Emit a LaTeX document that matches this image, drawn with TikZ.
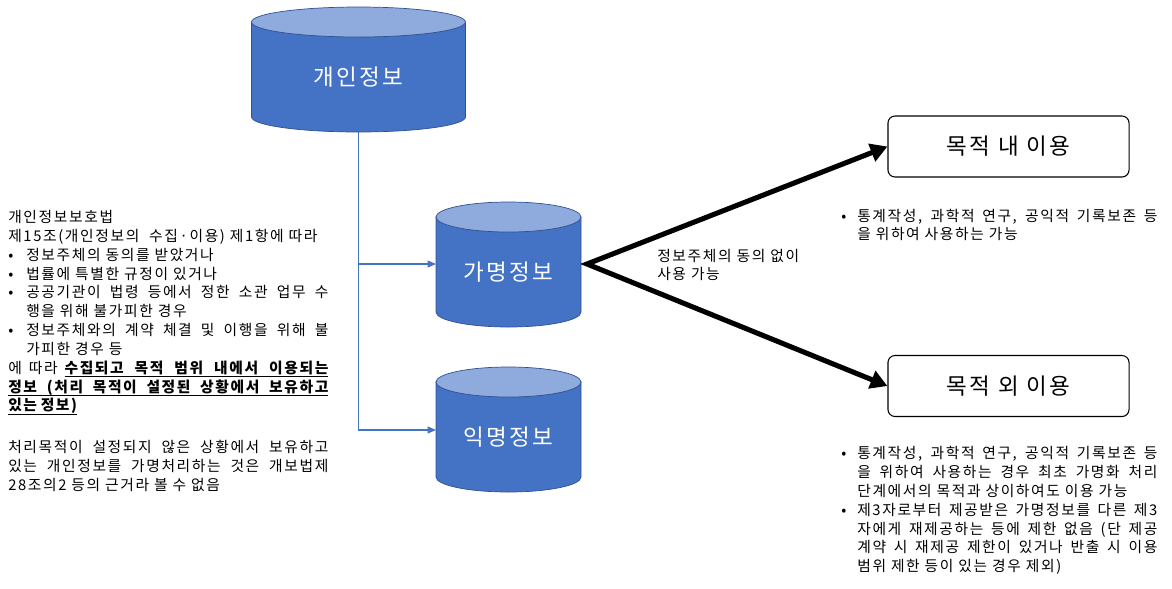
\documentclass[tikz,border=0pt]{standalone}
\usepackage{fontspec}
\usepackage{xcolor}
\usetikzlibrary{arrows.meta}
\setmainfont{Noto Sans CJK KR}[LetterSpace=11]
\definecolor{dbblue}{HTML}{4472C4}
\definecolor{dbtop}{HTML}{8FAADC}
\definecolor{dbedge}{HTML}{2F528F}
\newcommand{\bitem}[2]{\par\noindent\hangindent=#1\hangafter=1\makebox[#1][l]{•}#2\par}
\newcommand{\ulw}[1]{\setbox0\hbox{#1}\rlap{\rule[-2.6pt]{\wd0}{0.6pt}}\box0}
\newcommand{\uls}{\leaders\hrule height -2pt depth 2.6pt\hskip 0.25em plus 0.6em minus 0.05em\relax}
\newcommand{\dbcyl}[4]{%
  \filldraw[dbside] (#1-#4,#2) -- (#1-#4,#3) arc[start angle=180,end angle=0,x radius=#4,y radius=15] -- (#1+#4,#2) -- cycle;
  \filldraw[dbcap] (#1,#2) ellipse[x radius=#4,y radius=15];}
\tikzset{
  dbside/.style={fill=dbblue,draw=dbedge,line width=0.5pt},
  dbcap/.style={fill=dbtop,draw=dbedge,line width=0.5pt},
  dbtext/.style={text=white,font=\fontsize{16}{19}\selectfont,inner sep=0pt,outer sep=0pt},
  usebox/.style={draw,rounded corners=5pt,line width=0.75pt,minimum width=6.025cm,minimum height=1.525cm,font=\fontsize{16}{19}\selectfont},
  note/.style={inner sep=0pt,anchor=north west,font=\fontsize{10.5}{13.4}\selectfont},
  feed/.style={draw=dbblue,line width=0.75pt,-{Triangle[length=6pt,width=5pt]}},
  flow/.style={line width=3.6pt,{Triangle[length=12pt,width=13pt]}-{Triangle[length=12pt,width=13pt]}}
}

\begin{document}
\begin{tikzpicture}[x=0.025cm,y=-0.025cm]
  \useasboundingbox (0,0) rectangle (1172,588);
  % databases
  \dbcyl{358.5}{22}{117}{107}
  \dbcyl{508.5}{217}{312}{72.5}
  \dbcyl{508.5}{382}{477}{72.5}
  \node[dbtext] at(358.5,77)(pers){개인정보};
  \node[dbtext,minimum width=3.625cm] at(508.5,272)(pseudo){가명정보};
  \node[dbtext,minimum width=3.625cm] at(508.5,437)(anon){익명정보};
  % uses
  \node[usebox] at(1008.5,146.5)(inbox){목적 내 이용};
  \node[usebox] at(1008.5,386)(outbox){목적 외 이용};
  % texts
  \node[note,text width=8cm,align=justify] at(8,210)(law){%
    개인정보보호법\par
    제15조(개인정보의 \ 수집·이용) 제1항에 따라\par
    \bitem{0.45cm}{정보주체의 동의를 받았거나}
    \bitem{0.45cm}{법률에 특별한 규정이 있거나}
    \bitem{0.45cm}{공공기관이 법령 등에서 정한 소관 업무 수\linebreak 행을 위해 불가피한 경우}
    \bitem{0.45cm}{정보주체와의 계약 체결 및 이행을 위해 불\linebreak 가피한 경우 등}
    \noindent 에 따라 {\bfseries\ulw{수집되고}\uls\ulw{목적}\uls\ulw{범위}\uls\ulw{내에서}\uls\ulw{이용되는}\linebreak
    \ulw{정보}\uls\ulw{(처리}\uls\ulw{목적이}\uls\ulw{설정된}\uls\ulw{상황에서}\uls\ulw{보유하고}\linebreak
    \ulw{있는}\uls\ulw{정보)}}\par
    \vskip 16.4pt
    \noindent 처리목적이 설정되지 않은 상황에서 보유하고\linebreak 있는 개인정보를 가명처리하는 것은 개보법제\linebreak 28조의2 등의 근거라 볼 수 없음\par};
  \node[note,align=left] at(657,248.5)(consent){정보주체의 동의 없이\\사용 가능};
  \node[note,text width=7.9cm,align=justify] at(841,202)(inlist){%
    \bitem{0.4cm}{통계작성, 과학적 연구, 공익적 기록보존 등\linebreak 을 위하여 사용하는 가능}};
  \node[note,text width=7.9cm,align=justify] at(841,439.5)(outlist){%
    \bitem{0.4cm}{통계작성, 과학적 연구, 공익적 기록보존 등\linebreak 을 위하여 사용하는 경우 최초 가명화 처리\linebreak 단계에서의 목적과 상이하여도 이용 가능}
    \bitem{0.4cm}{제3자로부터 제공받은 가명정보를 다른 제3\linebreak 자에게 재제공하는 등에 제한 없음 (단 제공\linebreak 계약 시 재제공 제한이 있거나 반출 시 이용\linebreak 범위 제한 등이 있는 경우 제외)}};
  % connectors
  \coordinate (trunk) at(358.5,132);
  \coordinate (jn1) at(358.5,264);
  \coordinate (jn2) at(358.5,430);
  \coordinate (fork) at(587,264);
  \draw[feed] (trunk) -- (jn2) -- (jn2 -| anon.west);
  \draw[feed] (jn1) -- (jn1 -| pseudo.west);
  \draw[flow] (inbox.west) -- (fork) -- (outbox.west);
\end{tikzpicture}
\end{document}
